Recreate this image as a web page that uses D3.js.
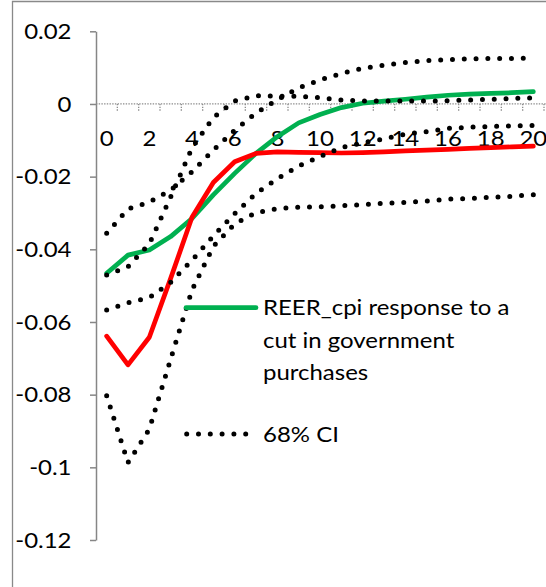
<!DOCTYPE html>
<html><head><meta charset="utf-8">
<script src="https://cdn.jsdelivr.net/npm/d3@7"></script>
<style>body{margin:0;background:#fff}</style>
</head><body><svg id="c" width="546" height="587"></svg>
<script>
const categories = [0,1,2,3,4,5,6,7,8,9,10,11,12,13,14,15,16,17,18,19,20];
const xTickLabels = ["0","2","4","6","8","10","12","14","16","18","20"];
const yTicks = [0.02,0,-0.02,-0.04,-0.06,-0.08,-0.1,-0.12];
const yTickLabels = ["0.02","0","-0.02","-0.04","-0.06","-0.08","-0.1","-0.12"];

const reerResponse = [-0.0466,-0.0416,-0.0402,-0.0365,-0.0315,-0.0250,-0.0191,-0.0136,-0.0090,-0.0052,-0.0029,-0.0010,0.0002,0.0008,0.0013,0.0019,0.0024,0.0027,0.0029,0.0031,0.0034];
const redResponse = [-0.0639,-0.0718,-0.0642,-0.0480,-0.0312,-0.0216,-0.0159,-0.0136,-0.0132,-0.0133,-0.0134,-0.0135,-0.0134,-0.0132,-0.0129,-0.0127,-0.0125,-0.0122,-0.0120,-0.0118,-0.0116];
const ciGreenUpper = [-0.0356,-0.0289,-0.0270,-0.0237,-0.0187,-0.0127,-0.0072,-0.0025,0.0012,0.0044,0.0066,0.0084,0.0098,0.0107,0.0114,0.0119,0.0122,0.0124,0.0125,0.0125,0.0126];
const ciGreenLower = [-0.0567,-0.0547,-0.0533,-0.0491,-0.0430,-0.0363,-0.0302,-0.0246,-0.0206,-0.0171,-0.0145,-0.0120,-0.0107,-0.0096,-0.0083,-0.0076,-0.0067,-0.0064,-0.0062,-0.0060,-0.0059];
const ciRedUpper = [-0.0471,-0.0448,-0.0385,-0.0256,-0.0121,-0.0037,0.0008,0.0023,0.0021,0.0021,0.0017,0.0011,0.0008,0.0008,0.0008,0.0008,0.0009,0.0011,0.0013,0.0015,0.0017];
const ciRedLower = [-0.0803,-0.0987,-0.0895,-0.0702,-0.0512,-0.0392,-0.0330,-0.0299,-0.0288,-0.0284,-0.0283,-0.0280,-0.0277,-0.0273,-0.0271,-0.0267,-0.0262,-0.0260,-0.0257,-0.0254,-0.0250];

const legendGreenLabel = ["REER_cpi response to a","cut in government","purchases"];
const legendCILabel = "68% CI";

const FONT = "Lato, 'Open Sans', sans-serif";
const FS = 22;
const SX = 1.09;
const svg = d3.select("#c");
svg.append("rect").attr("width",546).attr("height",587).attr("fill","#fff");
svg.append("path").attr("d","M12.5,587V1.5H546").attr("fill","none").attr("stroke","#898989").attr("stroke-width",1.3);

const x = d3.scaleBand().domain(categories).range([96,544]);
const cx = c => x(c) + x.bandwidth()/2;
const y = d3.scaleLinear().domain([-0.12,0.02]).range([540,31.3]);

// y axis
const ya = svg.append("g").attr("transform","translate(96,0)")
  .call(d3.axisLeft(y).tickValues(yTicks).tickSize(6).tickSizeOuter(0).tickPadding(18)
    .tickFormat((d,i)=>yTickLabels[i]));
ya.attr("font-family",FONT).attr("font-size",FS);
ya.select(".domain").attr("stroke","#868686").attr("stroke-width",1.5);
ya.selectAll(".tick line").attr("stroke","#868686").attr("stroke-width",1.5);
ya.selectAll(".tick text").attr("fill","#000").attr("x",0)
  .attr("transform",`translate(-24.5,0) scale(${SX},1)`);

// x axis at zero (dotted)
const y0 = y(0);
svg.append("line").attr("x1",96).attr("x2",546).attr("y1",y0).attr("y2",y0)
  .attr("stroke","#8c8c8c").attr("stroke-width",1.3).attr("stroke-dasharray","1.4 1.3");
svg.append("g").selectAll("line").data(categories).join("line")
  .attr("x1",d=>x(d)+x.bandwidth()).attr("x2",d=>x(d)+x.bandwidth())
  .attr("y1",y0).attr("y2",y0+8)
  .attr("stroke","#8c8c8c").attr("stroke-width",1.3).attr("stroke-dasharray","1.4 1.3");
svg.append("g").selectAll("text").data(xTickLabels).join("text")
  .attr("transform",d=>`translate(${cx(+d)},${y0+42}) scale(${SX},1)`)
  .attr("text-anchor","middle").attr("font-family",FONT).attr("font-size",FS).attr("fill","#000")
  .text(d=>d);

const line = d3.line().x((d,i)=>cx(categories[i])).y(d=>y(d));

function solid(data,color){
  svg.append("path").attr("d",line(data)).attr("fill","none").attr("stroke",color)
    .attr("stroke-width",4.7).attr("stroke-linejoin","round").attr("stroke-linecap","round");
}
function dotted(data){
  svg.append("path").attr("d",line(data)).attr("fill","none").attr("stroke","#000")
    .attr("stroke-width",5).attr("stroke-linecap","round").attr("stroke-dasharray","0 11.8");
}
solid(reerResponse,"#00b050");
solid(redResponse,"#ff0000");
dotted(ciGreenUpper);
dotted(ciGreenLower);
dotted(ciRedUpper);
dotted(ciRedLower);

// legend
const lg = svg.append("g");
lg.append("line").attr("x1",186).attr("x2",256).attr("y1",307.7).attr("y2",307.7)
  .attr("stroke","#00b050").attr("stroke-width",4.7).attr("stroke-linecap","round");
lg.append("g").selectAll("text").data(legendGreenLabel).join("text")
  .attr("transform",(d,i)=>`translate(263,${315+i*32.5}) scale(${SX},1)`)
  .attr("font-family",FONT).attr("font-size",FS).attr("fill","#000").text(d=>d);
lg.append("line").attr("x1",186.7).attr("x2",246).attr("y1",434).attr("y2",434)
  .attr("stroke","#000").attr("stroke-width",5).attr("stroke-linecap","round").attr("stroke-dasharray","0 11.8");
lg.append("text").attr("transform",`translate(263,441.7) scale(${SX},1)`)
  .attr("font-family",FONT).attr("font-size",FS).attr("fill","#000").text(legendCILabel);
</script>
</body></html>
